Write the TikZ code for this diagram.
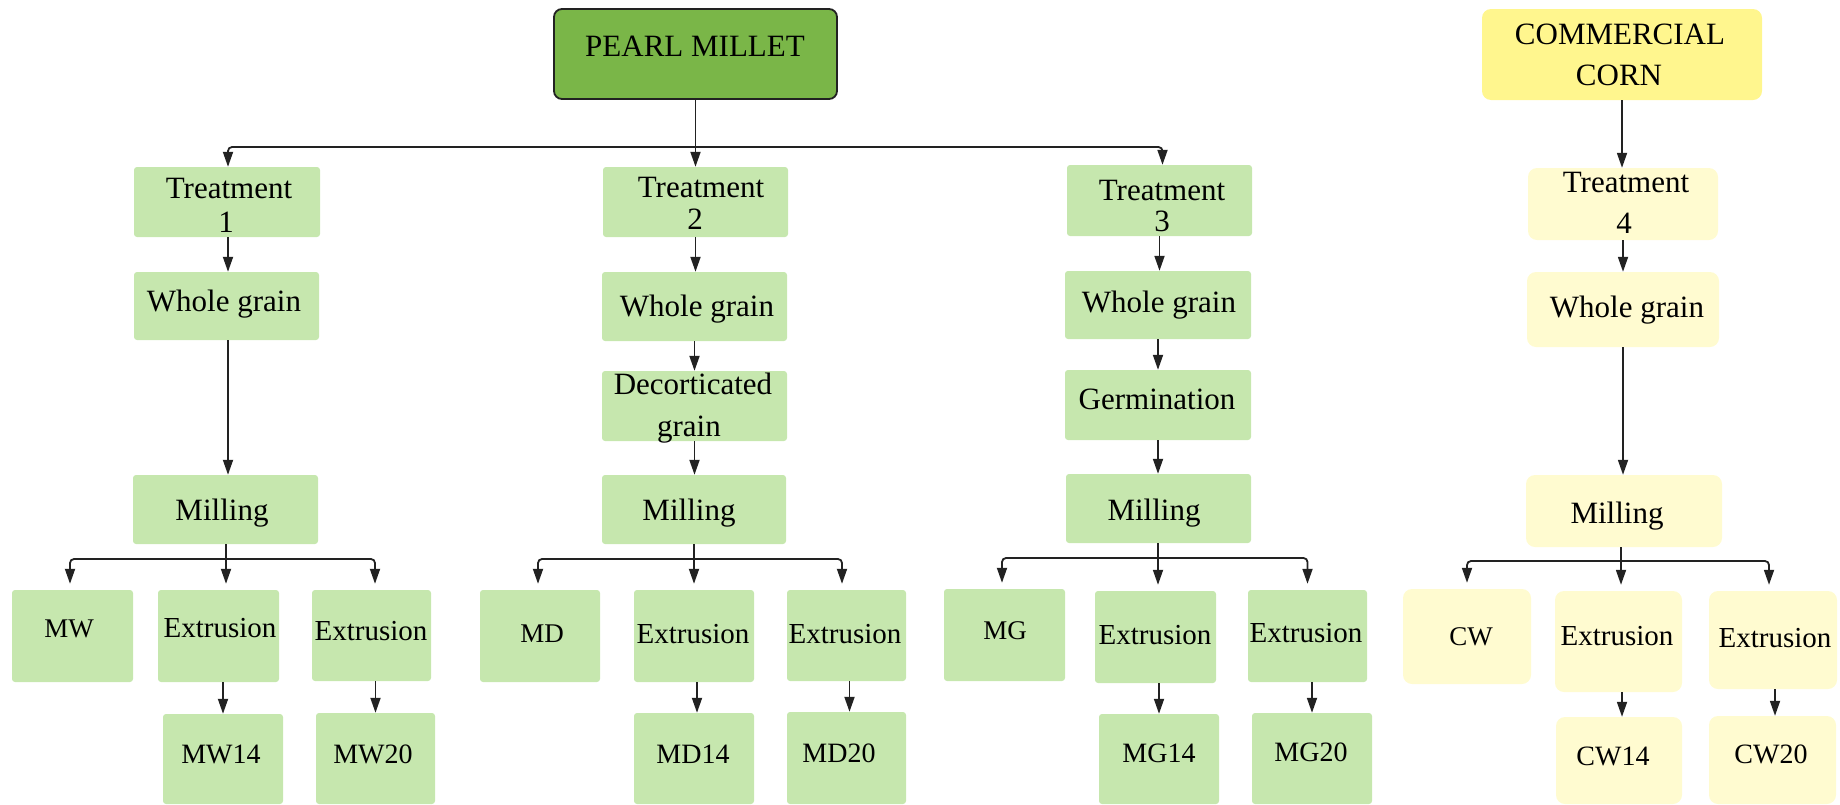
\documentclass[tikz,border=0pt]{standalone}
\usepackage{fontspec}
\setmainfont{Liberation Serif}
\usetikzlibrary{arrows.meta,fit}
\definecolor{gbox}{HTML}{C6E7AE}
\definecolor{pgreen}{HTML}{7AB648}
\definecolor{cyel}{HTML}{FFF68E}
\definecolor{lyel}{HTML}{FFFBD0}
\definecolor{lc}{HTML}{222222}
\tikzset{
  gb/.style={fill=gbox, draw=none, rounded corners=3pt, inner sep=0pt},
  yb/.style={fill=lyel, draw=none, rounded corners=9pt, inner sep=0pt},
  lbl/.style={anchor=base, inner sep=0pt, font=\fontsize{31}{37}\selectfont},
  ext/.style={lbl, font=\fontsize{29}{35}\selectfont},
  code/.style={lbl, font=\fontsize{27}{32}\selectfont},
  codeb/.style={lbl, font=\fontsize{28}{33}\selectfont},
  ln/.style={draw=lc, line width=1.8pt},
  arr/.style={ln, -{Triangle[length=15pt,width=10pt]}},
  brarr/.style={arr, rounded corners=4pt, shorten >=6pt}
}
\begin{document}
\begin{tikzpicture}[x=1pt,y=-1pt]
\useasboundingbox (0,0) rectangle (1840,804);
% ---------- boxes ----------
\node[fill=pgreen, draw=lc, line width=1.8pt, rounded corners=8pt, inner sep=0pt, fit={(554,9) (837,99)}] (pm) {};
\node[fill=cyel, draw=none, rounded corners=9pt, inner sep=0pt, fit={(1482,9) (1762,100)}] (cc) {};
% column 1
\node[gb, fit={(134,167) (320,237)}] (t1) {};
\node[gb, fit={(134,272) (319,340)}] (w1) {};
\node[gb, fit={(133,475) (318,544)}] (m1) {};
\node[gb, fit={(12,590) (133,682)}] (mw) {};
\node[gb, fit={(158,590) (279,682)}] (e1a) {};
\node[gb, fit={(312,590) (431,681)}] (e1b) {};
\node[gb, fit={(163,714) (283,804)}] (mw14) {};
\node[gb, fit={(316,713) (435,804)}] (mw20) {};
% column 2
\node[gb, fit={(603,167) (788,237)}] (t2) {};
\node[gb, fit={(602,272) (787,341)}] (w2) {};
\node[gb, fit={(602,371) (787,441)}] (d2) {};
\node[gb, fit={(602,475) (786,544)}] (m2) {};
\node[gb, fit={(480,590) (600,682)}] (md) {};
\node[gb, fit={(634,590) (754,682)}] (e2a) {};
\node[gb, fit={(787,590) (906,681)}] (e2b) {};
\node[gb, fit={(634,713) (754,804)}] (md14) {};
\node[gb, fit={(787,712) (906,804)}] (md20) {};
% column 3
\node[gb, fit={(1067,165) (1252,236)}] (t3) {};
\node[gb, fit={(1065,271) (1251,339)}] (w3) {};
\node[gb, fit={(1065,370) (1251,440)}] (g3) {};
\node[gb, fit={(1066,474) (1251,543)}] (m3) {};
\node[gb, fit={(944,589) (1065,681)}] (mg) {};
\node[gb, fit={(1095,591) (1216,683)}] (e3a) {};
\node[gb, fit={(1248,590) (1367,682)}] (e3b) {};
\node[gb, fit={(1099,714) (1219,804)}] (mg14) {};
\node[gb, fit={(1252,713) (1372,804)}] (mg20) {};
% column 4
\node[yb, fit={(1528,168) (1718,240)}] (t4) {};
\node[yb, fit={(1527,272) (1719,347)}] (w4) {};
\node[yb, fit={(1526,475) (1722,547)}] (m4) {};
\node[yb, fit={(1403,589) (1531,684)}] (cw) {};
\node[yb, fit={(1555,591) (1682,692)}] (e4a) {};
\node[yb, fit={(1709,591) (1837,689)}] (e4b) {};
\node[yb, fit={(1556,717) (1682,804)}] (cw14) {};
\node[yb, fit={(1709,716) (1836,804)}] (cw20) {};
% ---------- labels ----------
\node[lbl] (pmL) at (695,56) {PEARL MILLET};
\node[lbl] (ccL1) at (1620,44) {COMMERCIAL};
\node[lbl] (ccL2) at (1619,85) {CORN};
\node[lbl] (t1L1) at (229,198) {Treatment};
\node[lbl] (t1L2) at (226,232) {1};
\node[lbl] (w1L) at (224,311) {Whole grain};
\node[lbl] (m1L) at (222,520) {Milling};
\node[code] (mwL) at (69,637) {MW};
\node[ext] (e1aL) at (220,637) {Extrusion};
\node[ext] (e1bL) at (371,640) {Extrusion};
\node[codeb] (mw14L) at (221,763) {MW14};
\node[codeb] (mw20L) at (373,763) {MW20};
\node[lbl] (t2L1) at (701,197) {Treatment};
\node[lbl] (t2L2) at (695,229) {2};
\node[lbl] (w2L) at (697,316) {Whole grain};
\node[lbl] (d2L1) at (693,394) {Decorticated};
\node[lbl] (d2L2) at (689,436) {grain};
\node[lbl] (m2L) at (689,520) {Milling};
\node[code] (mdL) at (542,642) {MD};
\node[ext] (e2aL) at (693,643) {Extrusion};
\node[ext] (e2bL) at (845,643) {Extrusion};
\node[codeb] (md14L) at (693,763) {MD14};
\node[codeb] (md20L) at (839,762) {MD20};
\node[lbl] (t3L1) at (1162,200) {Treatment};
\node[lbl] (t3L2) at (1162,231) {3};
\node[lbl] (w3L) at (1159,312) {Whole grain};
\node[lbl] (g3L) at (1157,409) {Germination};
\node[lbl] (m3L) at (1154,520) {Milling};
\node[code] (mgL) at (1005,639) {MG};
\node[ext] (e3aL) at (1155,644) {Extrusion};
\node[ext] (e3bL) at (1306,642) {Extrusion};
\node[codeb] (mg14L) at (1159,762) {MG14};
\node[codeb] (mg20L) at (1311,761) {MG20};
\node[lbl] (t4L1) at (1626,192) {Treatment};
\node[lbl] (t4L2) at (1624,233) {4};
\node[lbl] (w4L) at (1627,317) {Whole grain};
\node[lbl] (m4L) at (1617,523) {Milling};
\node[code] (cwL) at (1471,645) {CW};
\node[ext] (e4aL) at (1617,645) {Extrusion};
\node[ext] (e4bL) at (1775,647) {Extrusion};
\node[codeb] (cw14L) at (1613,765) {CW14};
\node[codeb] (cw20L) at (1771,763) {CW20};
% ---------- connectors ----------
\coordinate (hj) at (695.5,147);
\draw[arr] (pm.south) -- (t2.north);
\draw[arr, rounded corners=4pt] (hj) -| ([xshift=1pt]t1.north);
\draw[arr, rounded corners=4pt] (hj) -| ([xshift=3pt]t3.north);
\draw[arr] (cc.south) -- (cc.south |- t4.north);
% column chains
\draw[arr] ([xshift=1pt]t1.south) -- ([xshift=1.5pt]w1.north);
\draw[arr] ([xshift=1.5pt]w1.south) -- ([xshift=2.5pt]m1.north);
\draw[arr] (t2.south) -- (t2.south |- w2.north);
\draw[arr] (w2.south) -- (w2.south |- d2.north);
\draw[arr] (d2.south) -- (d2.south |- m2.north);
\draw[arr] (t3.south) -- (t3.south |- w3.north);
\draw[arr] (w3.south) -- (w3.south |- g3.north);
\draw[arr] (g3.south) -- (g3.south |- m3.north);
\draw[arr] (t4.south) -- (t4.south |- w4.north);
\draw[arr] (w4.south) -- (w4.south |- m4.north);
% milling branches
\coordinate (b1) at (226,559);
\draw[ln] (b1 |- m1.south) -- (b1);
\draw[brarr] (b1) -| ([xshift=-2.5pt]mw.north);
\draw[brarr] (b1) -- (b1 |- e1a.north);
\draw[brarr] (b1) -| ([xshift=3.5pt]e1b.north);
\coordinate (b2) at (694,559);
\draw[ln] (b2 |- m2.south) -- (b2);
\draw[brarr] (b2) -| ([xshift=-2pt]md.north);
\draw[brarr] (b2) -- (b2 |- e2a.north);
\draw[brarr] (b2) -| ([xshift=-4.5pt]e2b.north);
\coordinate (b3) at (1158,558);
\draw[ln] (b3 |- m3.south) -- (b3);
\draw[brarr] (b3) -| ([xshift=-2.5pt]mg.north);
\draw[brarr] (b3) -- (b3 |- e3a.north);
\draw[brarr] (b3) -| (e3b.north);
\coordinate (b4) at (1621,561);
\draw[ln] (b4 |- m4.south) -- (b4);
\draw[brarr] (b4) -| (cw.north);
\draw[brarr] (b4) -- (b4 |- e4a.north);
\draw[brarr] (b4) -| ([xshift=-4pt]e4b.north);
% extrusion to products
\draw[arr] (e1a.south -| mw14.north) -- (mw14.north);
\draw[arr] (e1b.south -| mw20.north) -- (mw20.north);
\draw[arr] ([xshift=3pt]e2a.south -| md14.north) -- ([xshift=3pt]md14.north);
\draw[arr] ([xshift=3pt]e2b.south -| md20.north) -- ([xshift=3pt]md20.north);
\draw[arr] (e3a.south -| mg14.north) -- (mg14.north);
\draw[arr] (e3b.south -| mg20.north) -- (mg20.north);
\draw[arr] ([xshift=3pt]e4a.south -| cw14.north) -- ([xshift=3pt]cw14.north);
\draw[arr] ([xshift=2.5pt]e4b.south -| cw20.north) -- ([xshift=2.5pt]cw20.north);
\end{tikzpicture}
\end{document}
